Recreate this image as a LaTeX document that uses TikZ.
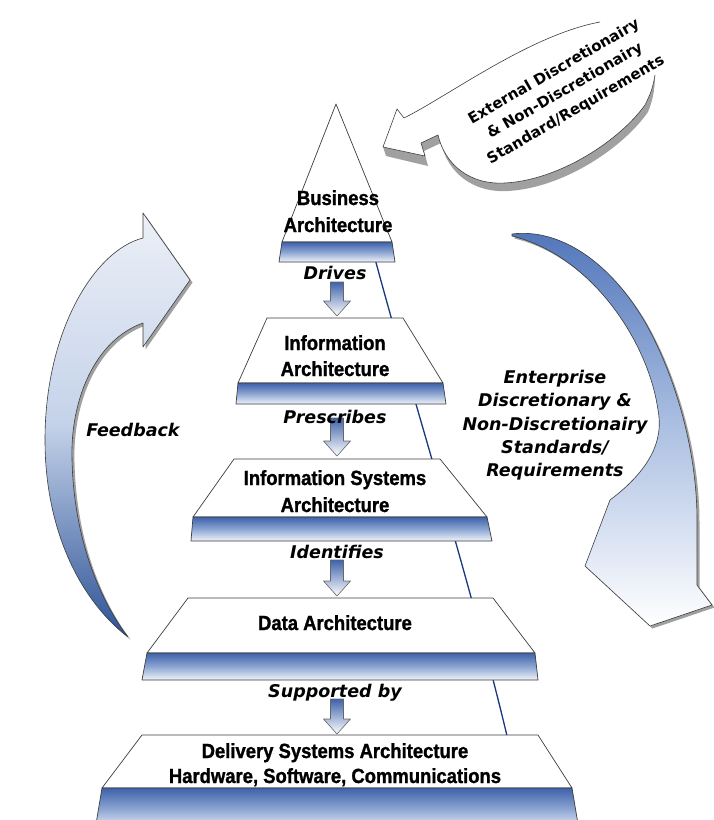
\documentclass[tikz,border=0pt]{standalone}
\usepackage{fontspec}
\newfontfamily\boxfont[FakeStretch=0.9,FakeBold=1.2]{Liberation Sans}
\newfontfamily\labfont{DejaVu Sans}
\definecolor{edgegray}{RGB}{60,60,60}
\definecolor{bandtop}{RGB}{62,98,170}
\definecolor{bandmid}{RGB}{140,165,210}
\definecolor{bandbot}{RGB}{240,244,250}
\definecolor{thinblue}{RGB}{25,55,130}
\definecolor{fbtop}{RGB}{236,240,247}
\definecolor{fbmid}{RGB}{196,210,233}
\definecolor{fbbot}{RGB}{45,82,150}
\definecolor{rttop}{RGB}{80,117,186}
\definecolor{rtmid}{RGB}{172,192,226}
\definecolor{shadowgray}{RGB}{160,160,160}
\tikzset{
  lvl/.style={fill=white, draw=edgegray, line width=0.7pt, line join=round},
  band/.style={draw=edgegray, line width=0.7pt, line join=round,
    top color=bandtop, bottom color=bandbot, middle color=bandmid},
  lvltext/.style={font={\boxfont\bfseries\fontsize{20.5}{23}\selectfont}, anchor=base, inner sep=0pt},
  verbtext/.style={font={\labfont\bfseries\itshape\fontsize{17.5}{21}\selectfont}, anchor=base, inner sep=0pt},
  extext/.style={font={\labfont\bfseries\fontsize{15}{22}\selectfont}, rotate=30, inner sep=0pt, align=center},
  linkarrow/.style={draw=gray!80!black, line width=0.6pt, line join=round,
    top color=bandtop, bottom color=white},
  bigarrow/.style={draw=edgegray, line width=0.6pt, line join=round},
  softshadow/.style={fill=shadowgray},
}
\newcommand{\blockdown}[3]{%
  \path[linkarrow] (#1-6.5,#2) -- (#1+6.5,#2) -- (#1+6.5,#3-15) -- (#1+13.5,#3-15)
    -- (#1,#3) -- (#1-13.5,#3-15) -- (#1-6.5,#3-15) -- cycle;}
\begin{document}
\begin{tikzpicture}[x=1pt,y=-1pt]
\useasboundingbox[fill=white] (0,0) rectangle (714,820);

% thin blue line behind the pyramid
\draw[thinblue, line width=1.3pt] (374,255) .. controls (410,390) and (470,580) .. (508,740);

% ---------- pyramid levels ----------
\path[lvl] (336,104) -- (392,242) -- (282,242) -- cycle;
\path[band] (282,242) -- (392,242) -- (395,262) -- (279,262) -- cycle;

\path[lvl] (267,318) -- (403,318) -- (443,383) -- (238,383) -- cycle;
\path[band] (238,383) -- (443,383) -- (446,404) -- (236,404) -- cycle;

\path[lvl] (234,459) -- (440,459) -- (487,517) -- (193,517) -- cycle;
\path[band] (193,517) -- (487,517) -- (492,541) -- (191,541) -- cycle;

\path[lvl] (188,598) -- (493,598) -- (535,653) -- (147,653) -- cycle;
\path[band] (147,653) -- (535,653) -- (538,680) -- (142,680) -- cycle;

\path[lvl] (142,735) -- (538,735) -- (572,788) -- (102,788) -- cycle;
\path[band] (102,788) -- (572,788) -- (579,830) -- (95,830) -- cycle;

% ---------- level texts ----------
\node[lvltext] (ba1) at (338,205) {Business};
\node[lvltext] (ba2) at (338,232) {Architecture};
\node[lvltext] (ia1) at (335,350) {Information};
\node[lvltext] (ia2) at (335,376) {Architecture};
\node[lvltext] (isa1) at (335,485) {Information Systems};
\node[lvltext] (isa2) at (335,512) {Architecture};
\node[lvltext] (da) at (335,630) {Data Architecture};
\node[lvltext] (dsa1) at (335,758) {Delivery Systems Architecture};
\node[lvltext] (dsa2) at (335,783) {Hardware, Software, Communications};

% ---------- small block arrows ----------
\blockdown{337}{282}{316}
\blockdown{337}{418}{456}
\blockdown{337}{560}{596}
\blockdown{337}{699}{734}

\node[verbtext] (drives) at (335,279) {Drives};
\node[verbtext] (prescribes) at (335,423) {Prescribes};
\node[verbtext] (identifies) at (337,558) {Identifies};
\node[verbtext] (supported) at (335,697) {Supported by};

% ---------- feedback arrow ----------
\path[softshadow] ([shift={(2.5,2.5)}]143,238) -- ([shift={(2.5,2.5)}]143,213) -- ([shift={(2.5,2.5)}]190,280)
  -- ([shift={(2.5,2.5)}]143,347) -- ([shift={(2.5,2.5)}]143,323)
  .. controls ([shift={(2.5,2.5)}]95,340) and ([shift={(2.5,2.5)}]70,400) .. ([shift={(2.5,2.5)}]72,460)
  .. controls ([shift={(2.5,2.5)}]74,540) and ([shift={(2.5,2.5)}]100,600) .. ([shift={(2.5,2.5)}]128,637)
  .. controls ([shift={(2.5,2.5)}]80,600) and ([shift={(2.5,2.5)}]45,530) .. ([shift={(2.5,2.5)}]45,440)
  .. controls ([shift={(2.5,2.5)}]45,330) and ([shift={(2.5,2.5)}]95,250) .. cycle;
\path[bigarrow, top color=fbtop, bottom color=fbbot, middle color=fbmid]
  (143,238) -- (143,213) -- (190,280) -- (143,347) -- (143,323)
  .. controls (95,340) and (70,400) .. (72,460)
  .. controls (74,540) and (100,600) .. (128,637)
  .. controls (80,600) and (45,530) .. (45,440)
  .. controls (45,330) and (95,250) .. cycle;
\node[verbtext] (feedback) at (133,436) {Feedback};

% ---------- enterprise arrow ----------
\path[softshadow] ([shift={(2.5,2.5)}]512,234) .. controls ([shift={(2.5,2.5)}]560,228) and ([shift={(2.5,2.5)}]610,262) .. ([shift={(2.5,2.5)}]645,322)
  .. controls ([shift={(2.5,2.5)}]675,375) and ([shift={(2.5,2.5)}]697,450) .. ([shift={(2.5,2.5)}]697,520)
  -- ([shift={(2.5,2.5)}]697,585) -- ([shift={(2.5,2.5)}]712,605) -- ([shift={(2.5,2.5)}]650,626)
  -- ([shift={(2.5,2.5)}]585,566) -- ([shift={(2.5,2.5)}]610,500)
  .. controls ([shift={(2.5,2.5)}]650,470) and ([shift={(2.5,2.5)}]664,440) .. ([shift={(2.5,2.5)}]658,410)
  .. controls ([shift={(2.5,2.5)}]648,340) and ([shift={(2.5,2.5)}]590,255) .. ([shift={(2.5,2.5)}]512,236) -- cycle;
\path[bigarrow, top color=rttop, bottom color=white, middle color=rtmid]
  (512,234) .. controls (560,228) and (610,262) .. (645,322)
  .. controls (675,375) and (697,450) .. (697,520)
  -- (697,585) -- (712,605) -- (650,626) -- (585,566) -- (610,500)
  .. controls (650,470) and (664,440) .. (658,410)
  .. controls (648,340) and (590,255) .. (512,236) -- cycle;
\node[verbtext] (ent1) at (555,383) {Enterprise};
\node[verbtext] (ent2) at (555,406) {Discretionary \&};
\node[verbtext] (ent3) at (555,430) {Non-Discretionairy};
\node[verbtext] (ent4) at (555,453) {Standards/};
\node[verbtext] (ent5) at (555,476) {Requirements};

% ---------- external arrow ----------
\fill[shadowgray] (386,156) -- (428,166) -- (424,151) -- (441,143)
  .. controls (448,173) and (473,193) .. (508,191)
  .. controls (563,188) and (623,148) .. (648,112)
  .. controls (653,100) and (655,88) .. (655,75)
  .. controls (653,88) and (650,95) .. (645,105)
  .. controls (620,140) and (560,180) .. (505,183)
  .. controls (470,185) and (445,165) .. (438,135)
  -- (421,143) -- (425,156) -- (383,147) -- cycle;
\fill[white] (383,147) -- (397,109) -- (404,118)
  .. controls (450,95) and (530,35) .. (600,22)
  .. controls (650,13) and (690,12) .. (706,18)
  .. controls (700,40) and (670,55) .. (655,75)
  .. controls (653,88) and (650,95) .. (645,105)
  .. controls (620,140) and (560,180) .. (505,183)
  .. controls (470,185) and (445,165) .. (438,135)
  -- (421,143) -- (425,156) -- cycle;
\draw[bigarrow] (600,22) .. controls (530,35) and (450,95) .. (404,118)
  -- (397,109) -- (383,147) -- (425,156) -- (421,143) -- (438,135)
  .. controls (445,165) and (470,185) .. (505,183)
  .. controls (560,180) and (620,140) .. (645,105)
  .. controls (650,95) and (653,88) .. (655,75);
\node[extext] (ext) at (565,91) {External Discretionairy\\ \& Non-Discretionairy\\ Standard/Requirements};
\end{tikzpicture}
\end{document}
